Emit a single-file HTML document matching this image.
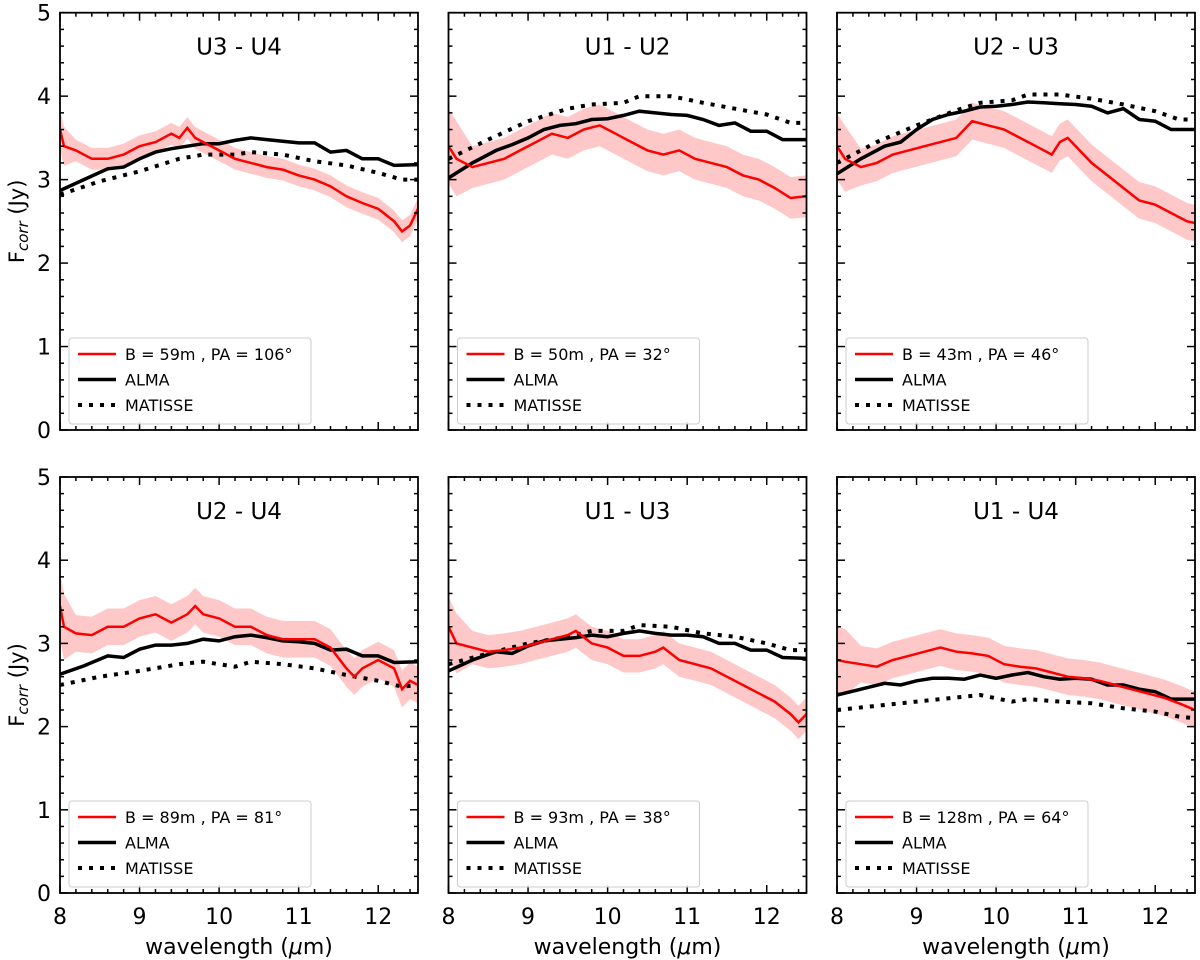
<!DOCTYPE html>
<html><head><meta charset="utf-8"><style>
body{margin:0;background:#fff;}
svg{display:block;font-family:"DejaVu Sans","Liberation Sans",sans-serif;}
</style></head><body>
<svg id="fig" width="1200" height="960" viewBox="0 0 1200 960"></svg>
<script>
const panelTitles=["U3 - U4","U1 - U2","U2 - U3","U2 - U4","U1 - U3","U1 - U4"];
const legendLabels=["B = 59m , PA = 106°","B = 50m , PA = 32°","B = 43m , PA = 46°","B = 89m , PA = 81°","B = 93m , PA = 38°","B = 128m , PA = 64°"];
const xTicks=[8,9,10,11,12];
const yTicks=[0,1,2,3,4,5];
const bandErr=[0.13,0.25,0.22,0.22,0.2,0.22];
const redX=[
[8,8.05,8.2,8.4,8.6,8.8,9,9.2,9.4,9.5,9.6,9.7,9.8,10,10.2,10.4,10.6,10.8,11,11.2,11.4,11.6,11.8,12,12.2,12.3,12.4,12.5],
[8,8.1,8.3,8.5,8.7,8.9,9.1,9.3,9.5,9.7,9.9,10.1,10.3,10.5,10.7,10.9,11.1,11.3,11.5,11.7,11.9,12.1,12.3,12.5],
[8,8.1,8.3,8.5,8.7,8.9,9.1,9.3,9.5,9.7,9.9,10.1,10.3,10.5,10.7,10.8,10.9,11,11.2,11.4,11.6,11.8,12,12.2,12.4,12.5],
[8,8.05,8.2,8.4,8.6,8.8,9,9.2,9.4,9.6,9.7,9.8,10,10.2,10.4,10.6,10.8,11,11.2,11.4,11.6,11.7,11.8,12,12.2,12.3,12.4,12.5],
[8,8.1,8.3,8.5,8.7,8.9,9.1,9.3,9.5,9.6,9.8,10,10.2,10.4,10.6,10.7,10.9,11.1,11.3,11.5,11.7,11.9,12.1,12.3,12.4,12.5],
[8,8.1,8.3,8.5,8.7,8.9,9.1,9.3,9.5,9.7,9.9,10.1,10.3,10.5,10.7,10.9,11.1,11.3,11.5,11.7,11.9,12.1,12.3,12.5]];
const redY=[
[3.6,3.4,3.35,3.25,3.25,3.3,3.4,3.45,3.55,3.5,3.62,3.5,3.45,3.35,3.25,3.2,3.15,3.12,3.05,3.0,2.92,2.8,2.72,2.65,2.5,2.38,2.45,2.65],
[3.4,3.25,3.15,3.2,3.25,3.35,3.45,3.55,3.5,3.6,3.65,3.55,3.45,3.35,3.3,3.35,3.25,3.2,3.15,3.05,3.0,2.9,2.78,2.8],
[3.4,3.25,3.15,3.2,3.3,3.35,3.4,3.45,3.5,3.7,3.65,3.6,3.5,3.4,3.3,3.45,3.5,3.4,3.2,3.05,2.9,2.75,2.7,2.6,2.5,2.48],
[3.45,3.2,3.12,3.1,3.2,3.2,3.3,3.35,3.25,3.35,3.45,3.35,3.3,3.2,3.2,3.1,3.05,3.05,3.05,2.95,2.7,2.6,2.7,2.8,2.7,2.45,2.55,2.5],
[3.2,3.0,2.95,2.9,2.92,2.95,3.0,3.05,3.1,3.15,3.0,2.95,2.85,2.85,2.9,2.95,2.8,2.75,2.7,2.6,2.5,2.4,2.3,2.15,2.05,2.15],
[2.8,2.78,2.75,2.72,2.8,2.85,2.9,2.95,2.9,2.88,2.85,2.75,2.72,2.7,2.65,2.6,2.58,2.55,2.5,2.45,2.4,2.35,2.28,2.2]];
const almaX=[8,8.3,8.6,8.8,9,9.2,9.4,9.6,9.8,10,10.2,10.4,10.6,10.8,11,11.2,11.4,11.6,11.8,12,12.2,12.5];
const almaY=[
[2.87,3.0,3.13,3.15,3.25,3.33,3.37,3.4,3.43,3.43,3.47,3.5,3.48,3.46,3.44,3.44,3.33,3.35,3.25,3.25,3.17,3.18],
[3.02,3.2,3.35,3.42,3.5,3.6,3.65,3.67,3.72,3.73,3.77,3.82,3.8,3.78,3.77,3.72,3.65,3.68,3.58,3.58,3.48,3.48],
[3.07,3.25,3.4,3.45,3.6,3.72,3.78,3.82,3.87,3.88,3.9,3.93,3.92,3.91,3.9,3.88,3.8,3.85,3.72,3.7,3.6,3.6],
[2.63,2.73,2.85,2.83,2.93,2.98,2.98,3.0,3.05,3.03,3.08,3.1,3.07,3.03,3.02,3.0,2.92,2.93,2.85,2.85,2.77,2.78],
[2.67,2.8,2.9,2.88,2.97,3.03,3.05,3.07,3.1,3.08,3.12,3.15,3.12,3.1,3.1,3.08,3.0,3.0,2.92,2.92,2.83,2.82],
[2.38,2.45,2.52,2.5,2.55,2.58,2.58,2.57,2.62,2.58,2.62,2.65,2.6,2.57,2.58,2.57,2.5,2.5,2.45,2.42,2.33,2.33]];
const matX=[8,8.5,9,9.5,9.8,10.2,10.4,10.8,11.2,11.6,12,12.3,12.5];
const matY=[
[2.82,2.98,3.1,3.25,3.3,3.3,3.33,3.3,3.22,3.17,3.08,3.0,3.0],
[3.25,3.48,3.7,3.85,3.9,3.92,4.0,4.0,3.92,3.85,3.78,3.68,3.68],
[3.2,3.45,3.65,3.83,3.92,3.95,4.02,4.02,3.97,3.9,3.82,3.72,3.72],
[2.5,2.6,2.67,2.75,2.78,2.72,2.78,2.75,2.7,2.62,2.55,2.48,2.5],
[2.75,2.88,3.0,3.08,3.15,3.15,3.22,3.2,3.12,3.08,3.0,2.92,2.92],
[2.2,2.25,2.3,2.35,2.38,2.3,2.33,2.3,2.28,2.22,2.18,2.12,2.1]];

const NS="http://www.w3.org/2000/svg";
const svg=document.getElementById('fig');
function mk(tag,attrs,parent){const e=document.createElementNS(NS,tag);for(const k in attrs)e.setAttribute(k,attrs[k]);(parent||svg).appendChild(e);return e;}
const colL=[60,448.5,837], W=358;
const rowT=[12.7,477], H=[417.3,416];
for(let p=0;p<6;p++){
  const c=p%3,r=Math.floor(p/3);
  const L=colL[c],T=rowT[r],h=H[r];
  const sx=v=>L+(v-8)/4.5*W, sy=v=>T+h-(v/5)*h;
  const g=mk('g',{});
  
  
  const clipId='clip'+p;
  const cp=mk('clipPath',{id:clipId},g);mk('rect',{x:L,y:T,width:W,height:h},cp);
  const dg=mk('g',{'clip-path':'url(#'+clipId+')'},g);
  let up=[],dn=[];
  redX[p].forEach((x,i)=>{const e=bandErr[p]*(i<2?1.8:1);up.push(sx(x).toFixed(1)+','+sy(redY[p][i]+e).toFixed(1));dn.unshift(sx(x).toFixed(1)+','+sy(redY[p][i]-e).toFixed(1));});
  const band=mk('polygon',{points:up.concat(dn).join(' '),fill:'#ffc8c8',stroke:'none'},dg);
  
  
  const pts=(xs,ys)=>xs.map((x,i)=>sx(x).toFixed(1)+','+sy(ys[i]).toFixed(1)).join(' ');
  const mat=mk('polyline',{points:pts(matX,matY[p]),fill:'none',stroke:'#000','stroke-width':4,'stroke-dasharray':'4,7'},dg);
  
  
  const alma=mk('polyline',{points:pts(almaX,almaY[p]),fill:'none',stroke:'#000','stroke-width':3.5},dg);
  
  
  const red=mk('polyline',{points:pts(redX[p],redY[p]),fill:'none',stroke:'#f00','stroke-width':2.5},dg);
  
  
  mk('rect',{x:L,y:T,width:W,height:h,fill:'none',stroke:'#000','stroke-width':1.8},g);
  for(let v=8;v<=12.5001;v+=0.2){const X=sx(v);const maj=Math.abs(v-Math.round(v))<1e-6;const len=maj?8:4;
    mk('line',{x1:X,y1:T+h,x2:X,y2:T+h-len,stroke:'#000','stroke-width':1.5},g);
    mk('line',{x1:X,y1:T,x2:X,y2:T+len,stroke:'#000','stroke-width':1.5},g);}
  for(let v=0;v<=5.0001;v+=0.2){const Y=sy(v);const maj=Math.abs(v-Math.round(v))<1e-6;const len=maj?8:4;
    mk('line',{x1:L,y1:Y,x2:L+len,y2:Y,stroke:'#000','stroke-width':1.5},g);
    mk('line',{x1:L+W,y1:Y,x2:L+W-len,y2:Y,stroke:'#000','stroke-width':1.5},g);}
  if(r===1) xTicks.forEach(v=>{const t=mk('text',{x:sx(v),y:T+h+31,'text-anchor':'middle','font-size':22},g);t.textContent=v;
    });
  if(c===0) yTicks.forEach(v=>{const t=mk('text',{x:L-9,y:sy(v)+8,'text-anchor':'end','font-size':22},g);t.textContent=v;
    });
  const ti=mk('text',{x:L+W/2,y:T+42,'text-anchor':'middle','font-size':23},g);ti.textContent=panelTitles[p];
  
  const lg=mk('g',{},g);
  
  
  const lx=L+9,ly=T+h-92;
  mk('rect',{x:lx,y:ly,width:242,height:86,rx:3,fill:'#fff','fill-opacity':0.85,stroke:'#ccc','stroke-width':1},lg);
  const rows=[legendLabels[p],'ALMA','MATISSE'];
  rows.forEach((s,i)=>{const yy=ly+16+i*25.5;
    if(i===0)mk('line',{x1:lx+9,y1:yy,x2:lx+47,y2:yy,stroke:'#f00','stroke-width':2.5},lg);
    if(i===1)mk('line',{x1:lx+9,y1:yy,x2:lx+47,y2:yy,stroke:'#000','stroke-width':3.5},lg);
    if(i===2)mk('line',{x1:lx+9,y1:yy,x2:lx+47,y2:yy,stroke:'#000','stroke-width':4,'stroke-dasharray':'4,7'},lg);
    const t=mk('text',{x:lx+56,y:yy+6,'font-size':16},lg);t.textContent=s;
    });
  if(c===0){const yl=mk('text',{x:0,y:0,'font-size':21,'text-anchor':'middle',transform:`translate(24,${T+h/2}) rotate(-90)`},g);
    yl.innerHTML='F<tspan font-size="15" font-style="italic" dy="4">corr</tspan><tspan dy="-4"> (Jy)</tspan>';
    }
  if(r===1){const xl=mk('text',{x:L+W/2,y:T+h+61,'text-anchor':'middle','font-size':22},g);
    xl.innerHTML='wavelength (<tspan font-style="italic">μ</tspan>m)';
    }
}
</script>
</body></html>
